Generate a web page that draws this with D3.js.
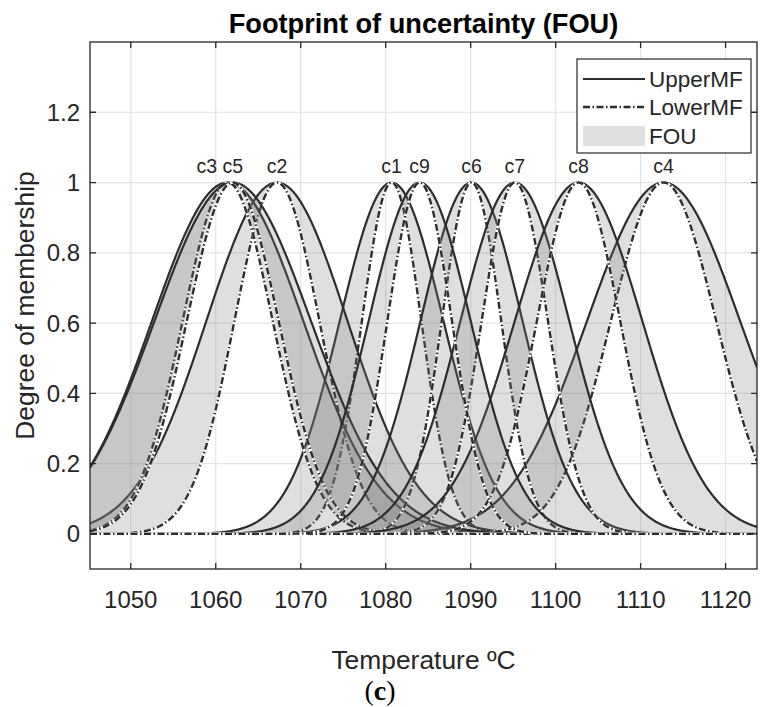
<!DOCTYPE html>
<html lang="en">
<head>
<meta charset="UTF-8">
<title>Footprint of uncertainty</title>
<script src="https://d3js.org/d3.v7.min.js"></script>
<style>
    body{ margin:0; background:#fff; }
    text{ font-family:"Liberation Sans", Arial, Helvetica, sans-serif; fill:#262626; }
</style>
</head>
<body>
<svg id="chart" width="760" height="707"></svg>
<script>
    // cluster names and Gaussian MF parameters
    let clusters = ["c1", "c2", "c3", "c4", "c5", "c6", "c7", "c8", "c9"]
    let centers = [1080.7, 1067.2, 1061.4, 1112.7, 1062.0, 1090.1, 1095.2, 1102.7, 1084.0]
    let sigmaUpper = [6.1, 8.3, 8.9, 9.0, 9.2, 6.0, 6.4, 7.5, 6.0]
    let sigmaLower = [3.5, 5.0, 5.3, 6.2, 5.4, 3.5, 3.9, 4.9, 3.8]

    let xTicks = [1050, 1060, 1070, 1080, 1090, 1100, 1110, 1120]
    let yTicks = [0, 0.2, 0.4, 0.6, 0.8, 1, 1.2]
    let legendItems = ["UpperMF", "LowerMF", "FOU"]

    let pLeft = 90, pRight = 757, pTop = 42, pBottom = 569
    let svg = d3.select("#chart")
    svg.append("rect").attr("width", 760).attr("height", 707).attr("fill", "#fff")

    let x = d3.scaleLinear().domain([1045.2, 1123.7]).range([pLeft, pRight])
    let y = d3.scaleLinear().domain([-0.1, 1.4]).range([pBottom, pTop])

    svg.append("clipPath").attr("id", "plotclip")
        .append("rect").attr("x", pLeft).attr("y", pTop)
        .attr("width", pRight - pLeft).attr("height", pBottom - pTop)

    // grid
    let grid = svg.append("g")
    grid.selectAll(".gx").data(xTicks).join("line")
        .attr("x1", d => x(d)).attr("x2", d => x(d))
        .attr("y1", pTop).attr("y2", pBottom)
        .attr("stroke", "#e3e3e3").attr("stroke-width", 1.2)
    grid.selectAll(".gy").data(yTicks).join("line")
        .attr("x1", pLeft).attr("x2", pRight)
        .attr("y1", d => y(d)).attr("y2", d => y(d))
        .attr("stroke", "#e3e3e3").attr("stroke-width", 1.2)

    function gauss(t, c, s) {
        return Math.exp(-((t - c) * (t - c)) / (2 * s * s))
    }

    let ts = d3.range(1045.2, 1123.8, 0.1)
    let plot = svg.append("g").attr("clip-path", "url(#plotclip)")

    let area = d3.area().x(d => x(d.t)).y0(d => y(d.lo)).y1(d => y(d.up))
    let lineUp = d3.line().x(d => x(d.t)).y(d => y(d.up))
    let lineLo = d3.line().x(d => x(d.t)).y(d => y(d.lo))
    let dashLo = "7,2.5,1.5,2.5"

    clusters.forEach(function (name, i) {
        let pts = ts.map(t => ({
            t: t,
            up: gauss(t, centers[i], sigmaUpper[i]),
            lo: gauss(t, centers[i], sigmaLower[i])
        }))
        plot.append("path").datum(pts).attr("d", area)
            .attr("fill", "#808080").attr("fill-opacity", 0.25)
        plot.append("path").datum(pts).attr("d", lineUp)
            .attr("fill", "none").attr("stroke", "#2d2d2d").attr("stroke-width", 2.2)
        plot.append("path").datum(pts).attr("d", lineLo)
            .attr("fill", "none").attr("stroke", "#fff").attr("stroke-width", 2.6)
        plot.append("path").datum(pts).attr("d", lineLo)
            .attr("fill", "none").attr("stroke", "#2d2d2d").attr("stroke-width", 2.4)
            .attr("stroke-dasharray", dashLo)
    })

    // labels above peaks, nudged left when two peaks nearly coincide
    let order = d3.range(clusters.length).sort((a, b) => centers[a] - centers[b])
    let labelX = {}
    for (let k = order.length - 1; k >= 0; k--) {
        let i = order[k]
        let px = x(centers[i])
        if (k < order.length - 1) {
            let nx = labelX[order[k + 1]]
            if (nx - px < 24) px = nx - 26
        }
        labelX[i] = px
    }
    svg.append("g").selectAll("text").data(clusters).join("text")
        .attr("x", (d, i) => labelX[i]).attr("y", y(1) - 10)
        .attr("text-anchor", "middle").attr("font-size", 19.5)
        .text(d => d)

    // axes box and ticks
    let ax = svg.append("g")
    ax.append("rect").attr("x", pLeft).attr("y", pTop)
        .attr("width", pRight - pLeft).attr("height", pBottom - pTop)
        .attr("fill", "none").attr("stroke", "#262626").attr("stroke-width", 1.3)
    let tl = 6
    ax.selectAll(".tb").data(xTicks).join("path")
        .attr("d", d => `M${x(d)},${pBottom}v${-tl}M${x(d)},${pTop}v${tl}`)
        .attr("stroke", "#262626").attr("stroke-width", 1.3)
    ax.selectAll(".tl").data(yTicks).join("path")
        .attr("d", d => `M${pLeft},${y(d)}h${tl}M${pRight},${y(d)}h${-tl}`)
        .attr("stroke", "#262626").attr("stroke-width", 1.3)
    ax.selectAll(".xl").data(xTicks).join("text")
        .attr("x", d => x(d)).attr("y", pBottom + 39)
        .attr("text-anchor", "middle").attr("font-size", 24)
        .text(d => d)
    ax.selectAll(".yl").data(yTicks).join("text")
        .attr("x", pLeft - 10).attr("y", d => y(d) + 8.5)
        .attr("text-anchor", "end").attr("font-size", 24)
        .text(d => d3.format("~g")(d))

    svg.append("text").attr("x", (pLeft + pRight) / 2).attr("y", 33)
        .attr("text-anchor", "middle").attr("font-size", 27.2).attr("font-weight", "bold")
        .style("fill", "#000")
        .text("Footprint of uncertainty (FOU)")
    svg.append("text").attr("x", (pLeft + pRight) / 2).attr("y", 669)
        .attr("text-anchor", "middle").attr("font-size", 26.4)
        .text("Temperature ºC")
    svg.append("text")
        .attr("transform", `translate(34,${(pTop + pBottom) / 2}) rotate(-90)`)
        .attr("text-anchor", "middle").attr("font-size", 26.4)
        .text("Degree of membership")

    let cap = svg.append("text").attr("x", 380).attr("y", 700)
        .attr("text-anchor", "middle").attr("font-size", 28)
        .style("font-family", "'Liberation Serif', 'DejaVu Serif', serif").style("fill", "#000")
    cap.append("tspan").text("(")
    cap.append("tspan").attr("font-weight", "bold").text("c")
    cap.append("tspan").text(")")

    // legend
    let lg = svg.append("g")
    lg.append("rect").attr("x", 577).attr("y", 59).attr("width", 174).attr("height", 94)
        .attr("fill", "#fff").attr("stroke", "#262626").attr("stroke-width", 1.2)
    let rowY = [79, 107, 136]
    legendItems.forEach(function (name, k) {
        let yy = rowY[k]
        if (k === 0) {
            lg.append("line").attr("x1", 583).attr("x2", 645).attr("y1", yy).attr("y2", yy)
                .attr("stroke", "#2d2d2d").attr("stroke-width", 2.2)
        } else if (k === 1) {
            lg.append("line").attr("x1", 583).attr("x2", 645).attr("y1", yy).attr("y2", yy)
                .attr("stroke", "#2d2d2d").attr("stroke-width", 2.4)
                .attr("stroke-dasharray", dashLo)
        } else {
            lg.append("rect").attr("x", 583).attr("y", yy - 10).attr("width", 62).attr("height", 20)
                .attr("fill", "#808080").attr("fill-opacity", 0.25)
        }
        lg.append("text").attr("x", 649).attr("y", yy + 8).attr("font-size", 22.5)
            .text(name)
    })
</script>
</body>
</html>
